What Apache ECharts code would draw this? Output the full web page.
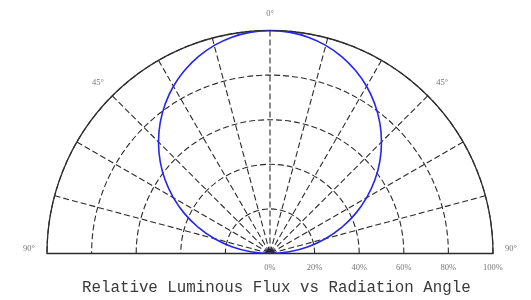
<!DOCTYPE html>
<html>
<head>
<meta charset="utf-8">
<script src="https://cdn.jsdelivr.net/npm/echarts@6/dist/echarts.min.js"></script>
<style>
  html, body { margin: 0; padding: 0; background: #fff; }
  #chart { width: 531px; height: 300px; }
</style>
</head>
<body>
<div id="chart"></div>
<script>
// radiation angle (deg) and relative luminous flux (%)
let angles = [-90, -85, -80, -75, -70, -65, -60, -55, -50, -45, -40, -35, -30, -25, -20, -15, -10, -5, 0,
  5, 10, 15, 20, 25, 30, 35, 40, 45, 50, 55, 60, 65, 70, 75, 80, 85, 90];
let flux = [0, 8.7, 17.4, 25.9, 34.2, 42.3, 50, 57.4, 64.3, 70.7, 76.6, 81.9, 86.6, 90.6, 94, 96.6, 98.5, 99.6, 100,
  99.6, 98.5, 96.6, 94, 90.6, 86.6, 81.9, 76.6, 70.7, 64.3, 57.4, 50, 42.3, 34.2, 25.9, 17.4, 8.7, 0];
let radiusTicks = [0, 20, 40, 60, 80, 100];
let angleLabels = [-90, -45, 0, 45, 90];

let gridColor = '#2b2b2b';
let center = [270, 253.5];
let R = 223;

let chart = echarts.init(document.getElementById('chart'), null, { renderer: 'canvas' });

let options = {
  backgroundColor: '#ffffff',
  animation: false,
  title: {
    text: 'Relative Luminous Flux vs Radiation Angle',
    left: 82,
    top: 280,
    padding: 0,
    textStyle: {
      fontFamily: 'Liberation Mono',
      fontSize: 15.8,
      fontWeight: 'normal',
      color: '#3a3a3a',
    },
  },
  polar: [
    { center, radius: R },
    { center, radius: R },
  ],
  angleAxis: [
    {
      polarIndex: 0,
      type: 'value',
      min: -90,
      max: 90,
      interval: 15,
      startAngle: 0,
      endAngle: 180,
      clockwise: false,
      axisLine: { lineStyle: { color: gridColor, width: 1.3 } },
      axisTick: { show: false },
      axisLabel: {
        margin: 12,
        fontFamily: 'Liberation Serif',
        fontSize: 8.5,
        color: '#777',
        formatter: (v) => {
          if (angleLabels.indexOf(v) < 0) return '';
          // the 90° labels sit a little above the baseline
          return Math.abs(v) === 90 ? '90°\n ' : Math.abs(v) + '°';
        },
      },
      splitLine: { lineStyle: { color: gridColor, width: 1.1, type: [6, 3] } },
    },
    {
      polarIndex: 1,
      type: 'value',
      min: -90,
      max: 90,
      startAngle: 180,
      endAngle: 0,
      clockwise: true,
      axisLine: { show: false },
      axisTick: { show: false },
      axisLabel: { show: false },
      splitLine: { show: false },
    },
  ],
  radiusAxis: [
    {
      polarIndex: 0,
      type: 'value',
      min: radiusTicks[0],
      max: radiusTicks[radiusTicks.length - 1],
      interval: 20,
      axisLine: { lineStyle: { color: gridColor, width: 1.3 } },
      axisTick: { show: false },
      axisLabel: {
        margin: -14,
        verticalAlign: 'middle',
        fontFamily: 'Liberation Serif',
        fontSize: 8.5,
        color: '#777',
        formatter: '{value}%',
      },
      splitLine: { lineStyle: { color: gridColor, width: 1.1, type: [6, 3] } },
    },
    {
      polarIndex: 1,
      type: 'value',
      min: 0,
      max: 100,
      axisLine: { lineStyle: { color: gridColor, width: 1.3 } },
      axisTick: { show: false },
      axisLabel: { show: false },
      splitLine: { show: false },
    },
  ],
  series: [
    {
      type: 'line',
      coordinateSystem: 'polar',
      polarIndex: 0,
      showSymbol: false,
      smooth: true,
      lineStyle: { color: '#2626ee', width: 1.6 },
      data: angles.map((a, i) => [flux[i], a]),
    },
  ],
};

chart.setOption(options);
</script>
</body>
</html>
